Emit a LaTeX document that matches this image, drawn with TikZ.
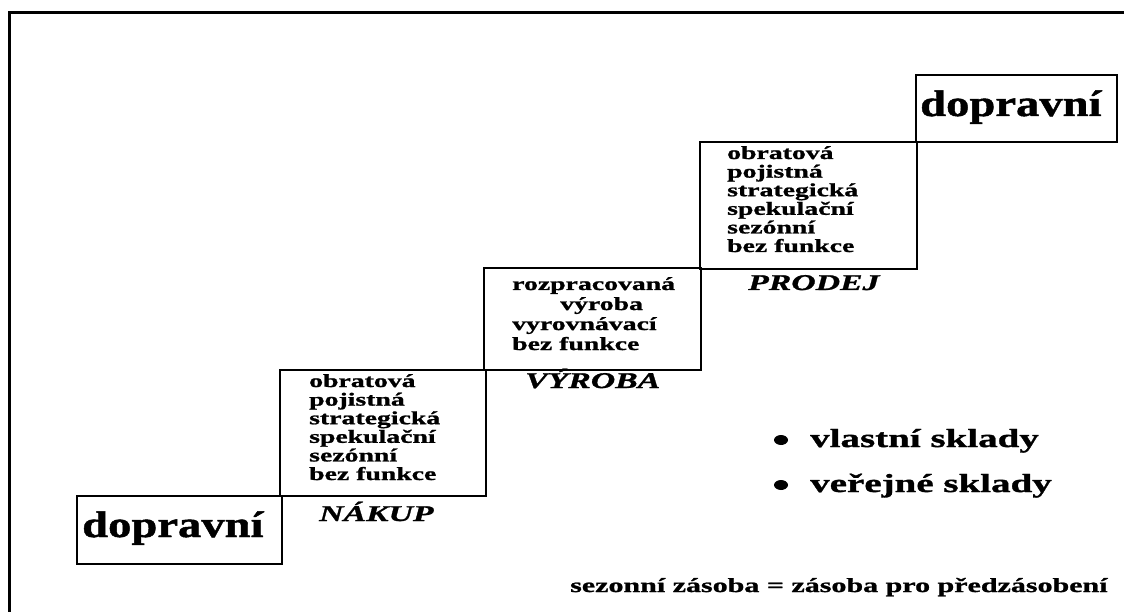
\documentclass[tikz,border=0pt]{standalone}
\usepackage{fontspec}
\usetikzlibrary{shapes.geometric}
\setmainfont{Liberation Serif}
\newfontfamily\wideA[FakeStretch=1.5,BoldFeatures={FakeBold=1.2},BoldItalicFeatures={FakeBold=1.2}]{Liberation Serif}
\newfontfamily\wideB[FakeStretch=1.26,BoldFeatures={FakeBold=1.2}]{Liberation Serif}
\begin{document}
\begin{tikzpicture}[x=1pt,y=-1pt,
  boxline/.style={draw=black,line width=2pt},
  lst/.style={anchor=base west,inner sep=0pt,font=\wideA\bfseries\fontsize{18.5}{18.5}\selectfont},
  big/.style={anchor=base west,inner sep=0pt,font=\wideB\bfseries\fontsize{37}{37}\selectfont},
  lbl/.style={anchor=base west,inner sep=0pt,font=\wideA\bfseries\itshape\fontsize{22.5}{22.5}\selectfont},
  bul/.style={anchor=base west,inner sep=0pt,font=\wideA\bfseries\fontsize{26}{26}\selectfont},
  dot/.style={ellipse,fill=black,minimum width=14pt,minimum height=10pt,inner sep=0pt},
  note/.style={anchor=base west,inner sep=0pt,font=\wideA\bfseries\fontsize{20}{20}\selectfont}]
\useasboundingbox (0,0) rectangle (1124,612);
\fill[white] (0,0) rectangle (1124,612);
% outer frame (open to the right and bottom)
\draw[line width=3pt] (9,612) -- (9,13) -- (1124,13);
% step boxes
\draw[boxline] (77,496) rectangle (282,564);
\draw[boxline] (280,370) rectangle (486,496);
\draw[boxline] (484,268) rectangle (701,370);
\draw[boxline] (700,142) rectangle (917,269);
\draw[boxline] (916,75) rectangle (1117,142);
% big labels
\node[big] (dl) at (82,537) {dopravní};
\node[big] (dr) at (920,116) {dopravní};
% NÁKUP list
\foreach \t [count=\i] in {obratová,pojistná,strategická,spekulační,sezónní,bez funkce}
  \node[lst] (n\i) at (309,{387+18.6*(\i-1)}) {\t};
% PRODEJ list
\foreach \t [count=\i] in {obratová,pojistná,strategická,spekulační,sezónní,bez funkce}
  \node[lst] (p\i) at (727,{159+18.6*(\i-1)}) {\t};
% VÝROBA list
\node[lst] (v1) at (512,290) {rozpracovaná};
\node[lst] (v2) at (560,310) {výroba};
\node[lst] (v3) at (512,330) {vyrovnávací};
\node[lst] (v4) at (512,350) {bez funkce};
% stage labels
\node[lbl] (nakup) at (319,521) {NÁKUP};
\node[lbl] (vyroba) at (525,388) {VÝROBA};
\node[lbl] (prodej) at (748,290) {PRODEJ};
% bullets
\node[dot] (d1) at (781,440) {};
\node[dot] (d2) at (781,485) {};
\node[bul] (b1) at (810,447) {vlastní sklady};
\node[bul] (b2) at (810,492) {veřejné sklady};
% note
\node[note] (nt) at (570,592) {sezonní zásoba = zásoba pro předzásobení};
\end{tikzpicture}
\end{document}
